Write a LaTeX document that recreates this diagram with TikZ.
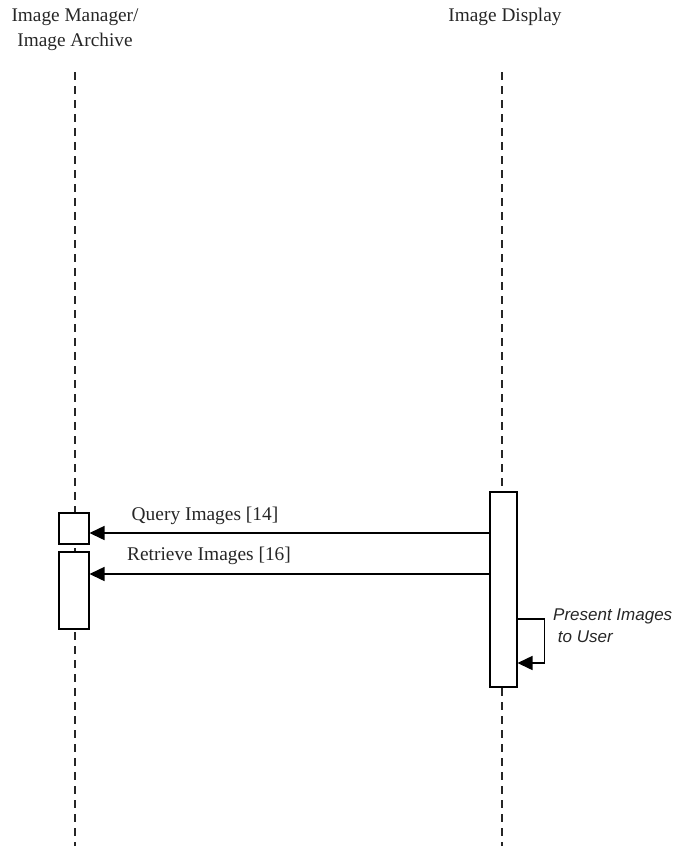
\documentclass[tikz,border=0pt]{standalone}
\usepackage{fontspec}
\setmainfont{Liberation Serif}
\setsansfont{Liberation Sans}
\usetikzlibrary{arrows.meta,calc}
\begin{document}
\begin{tikzpicture}[x=1pt,y=-1pt,
  lifeline/.style={line width=1.6pt,dash pattern=on 8pt off 6pt,black!85},
  actbox/.style={draw,line width=1.5pt,fill=white,inner sep=0pt,anchor=north west},
  msg/.style={line width=1.5pt,-{Triangle[length=15pt,width=14pt]}},
  lbl/.style={font=\fontsize{19.4}{22}\selectfont,text=black!85},
  head/.style={font=\fontsize{19.3}{25}\selectfont,align=center,text=black!85,inner sep=0pt}]
\useasboundingbox (0,0) rectangle (676,846);
% heads
\node[head] (hA) at (75,30) {Image Manager/\\Image Archive};
\node[head] (hB) at (505,17) {Image Display};
\coordinate (aTop) at (75,72);
\coordinate (aBot) at (75,846);
\coordinate (bTop) at (502,72);
\coordinate (bBot) at (502,846);
\draw[lifeline] (aTop) -- (aBot);
\draw[lifeline] (bTop) -- (bBot);
% activation boxes
\node[actbox,minimum width=30pt,minimum height=31pt] (a1) at (58,512) {};
\node[actbox,minimum width=30pt,minimum height=77pt] (a2) at (58,551) {};
\node[actbox,minimum width=27pt,minimum height=195pt] (b1) at (489,491) {};
% messages
\coordinate (q1) at ($(b1.north west)+(0,42)$);
\coordinate (q2) at ($(b1.north west)+(0,83)$);
\draw[msg] (q1) -- (q1 -| a1.east);
\draw[msg] (q2) -- (q2 -| a2.east);
\node[lbl] (lq) at (205,516) {Query Images [14]};
\node[lbl] (lr) at (209,556) {Retrieve Images [16]};
% self message
\coordinate (s1) at ($(b1.north east)+(0,128)$);
\coordinate (s2) at ($(b1.north east)+(0,172)$);
\draw[msg] (s1) -- ++(27,0) |- (s2);
\node[font=\sffamily\itshape\fontsize{17}{22}\selectfont,text=black!85,align=left,anchor=base west,inner sep=0pt] (ls) at (553,642) {Present Images\\\ to User};
\end{tikzpicture}
\end{document}
